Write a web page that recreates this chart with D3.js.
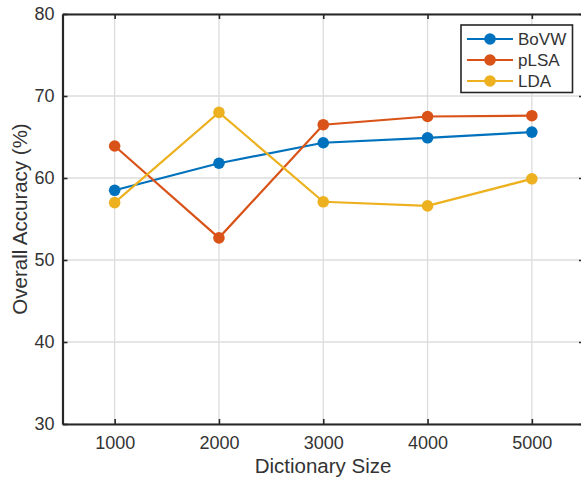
<!DOCTYPE html>
<html><head><meta charset="utf-8">
<script src="https://cdn.jsdelivr.net/npm/d3@7"></script>
<style>html,body{margin:0;padding:0;background:#fff;overflow:hidden}svg{display:block}</style>
</head><body>
<script>
const sizes = [1000, 2000, 3000, 4000, 5000];
const bovw = [58.5, 61.8, 64.3, 64.9, 65.6];
const plsa = [63.9, 52.7, 66.5, 67.5, 67.6];
const lda  = [57.0, 68.0, 57.1, 56.6, 59.9];
const seriesNames = ["BoVW", "pLSA", "LDA"];
const seriesColors = ["#0072BD", "#D95319", "#EDB120"];
const yTicks = [30, 40, 50, 60, 70, 80];
const xTicks = [1000, 2000, 3000, 4000, 5000];

const W = 581, H = 478;
const L = 62.5, R = 584, T = 14, B = 424;
const svg = d3.select("body").append("svg").attr("width", W).attr("height", H);
const font = "'Liberation Sans', Arial, Helvetica, sans-serif";
const x = d3.scaleLinear().domain([500, 5500]).range([L, R]);
const y = d3.scaleLinear().domain([30, 80]).range([B, T]);

// grid
const g = svg.append("g");
g.selectAll(".gx").data(xTicks).join("line")
  .attr("x1", d => x(d)).attr("x2", d => x(d)).attr("y1", T).attr("y2", B)
  .attr("stroke", "#dcdcdc").attr("stroke-width", 1.3);
g.selectAll(".gy").data(yTicks).join("line")
  .attr("x1", L).attr("x2", R).attr("y1", d => y(d)).attr("y2", d => y(d))
  .attr("stroke", "#dcdcdc").attr("stroke-width", 1.3);

// axes
const axCol = "#262626";
const axL = svg.append("g").attr("transform", `translate(${L},0)`)
  .call(d3.axisLeft(y).tickValues(yTicks).tickSizeInner(-5).tickSizeOuter(0).tickPadding(8));
const axB = svg.append("g").attr("transform", `translate(0,${B})`)
  .call(d3.axisBottom(x).tickValues(xTicks).tickFormat(d3.format("d")).tickSizeInner(-5).tickSizeOuter(0).tickPadding(12));
const axT = svg.append("g").attr("transform", `translate(0,${T})`)
  .call(d3.axisTop(x).tickValues(xTicks).tickFormat("").tickSizeInner(-5).tickSizeOuter(0));
const axR = svg.append("g").attr("transform", `translate(${R},0)`)
  .call(d3.axisRight(y).tickValues(yTicks).tickFormat("").tickSizeInner(-5).tickSizeOuter(0));
[axL, axB, axT, axR].forEach(a => {
  a.select(".domain").attr("stroke", axCol).attr("stroke-width", 2.2);
  a.selectAll(".tick line").attr("stroke", axCol).attr("stroke-width", 1.6);
  a.selectAll(".tick text").attr("fill", "#333").attr("font-family", font).attr("font-size", 18);
});

// series
const all = [bovw, plsa, lda];
const line = d3.line().x((d, i) => x(sizes[i])).y(d => y(d));
all.forEach((vals, si) => {
  svg.append("path").datum(vals).attr("d", line)
    .attr("fill", "none").attr("stroke", seriesColors[si]).attr("stroke-width", 2.2);
  svg.append("g").selectAll("circle").data(vals).join("circle")
    .attr("cx", (d, i) => x(sizes[i])).attr("cy", d => y(d)).attr("r", 5.8)
    .attr("fill", seriesColors[si]);
});

// labels
svg.append("text").attr("x", 323).attr("y", 473).attr("text-anchor", "middle")
  .attr("font-family", font).attr("font-size", 20.5).attr("fill", "#333").text("Dictionary Size");
svg.append("text").attr("transform", `translate(27,${(T + B) / 2}) rotate(-90)`).attr("text-anchor", "middle")
  .attr("font-family", font).attr("font-size", 20.5).attr("fill", "#333").text("Overall Accuracy (%)");

// legend
const lg = svg.append("g");
lg.append("rect").attr("x", 461).attr("y", 25).attr("width", 111.5).attr("height", 67.5)
  .attr("fill", "#fff").attr("stroke", axCol).attr("stroke-width", 1.6);
seriesNames.forEach((n, i) => {
  const yy = 39 + i * 21;
  lg.append("line").attr("x1", 467).attr("x2", 513).attr("y1", yy).attr("y2", yy)
    .attr("stroke", seriesColors[i]).attr("stroke-width", 2.2);
  lg.append("circle").attr("cx", 490).attr("cy", yy).attr("r", 5.8).attr("fill", seriesColors[i]);
  lg.append("text").attr("x", 518).attr("y", yy + 6).attr("font-family", font).attr("font-size", 17)
    .attr("fill", "#333").text(n);
});
</script>
</body></html>
